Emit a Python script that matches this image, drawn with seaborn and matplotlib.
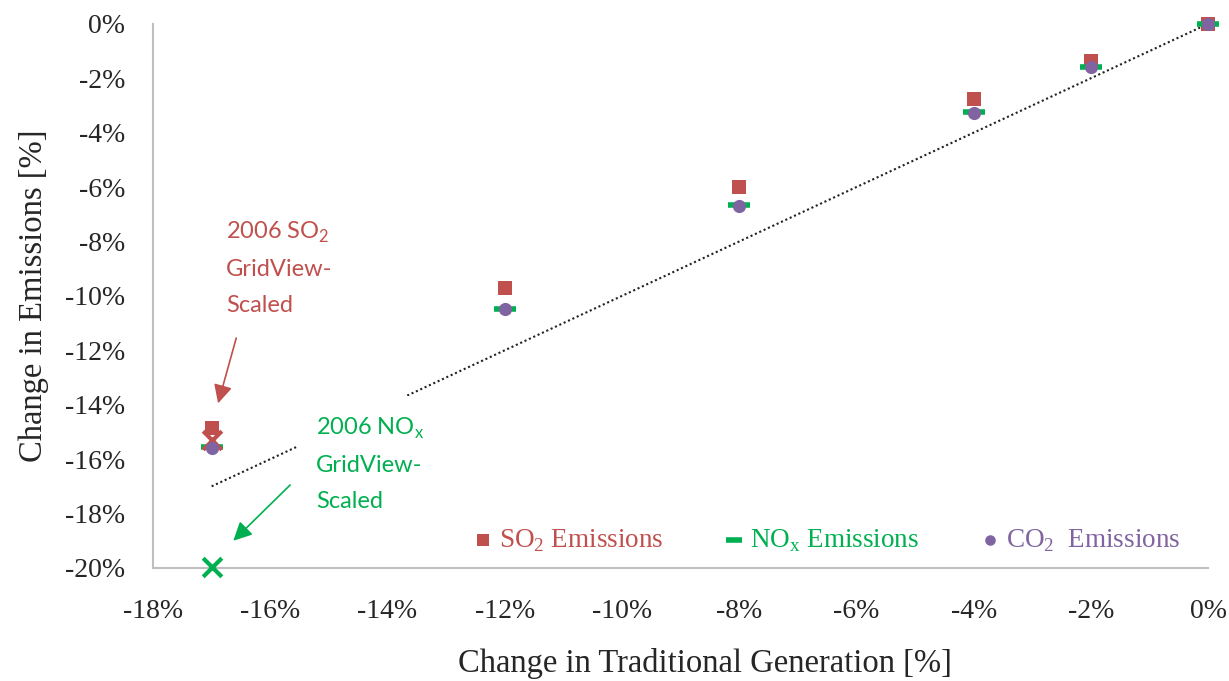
import matplotlib
matplotlib.use("Agg")
import matplotlib.pyplot as plt
import seaborn as sns
import pandas as pd

# Data (percent)
gen_change = [-17, -12, -8, -4, -2, 0]
so2_change = [-14.85, -9.72, -6.0, -2.78, -1.36, 0.0]
nox_change = [-15.55, -10.48, -6.66, -3.25, -1.58, 0.0]
co2_change = [-15.6, -10.5, -6.68, -3.27, -1.6, 0.0]

gridview_x = [-17]
gridview_so2 = [-15.3]
gridview_nox = [-19.95]

ref_x = [-17, 0]
ref_y = [-17, 0]

xticks = [-18, -16, -14, -12, -10, -8, -6, -4, -2, 0]
yticks = [0, -2, -4, -6, -8, -10, -12, -14, -16, -18, -20]

RED = "#C0504D"
GREEN = "#00B050"
PURPLE = "#8064A2"

sns.set_style("white")
plt.rcParams['font.family'] = ['Liberation Serif', 'DejaVu Serif']
plt.rcParams['mathtext.fontset'] = 'custom'
plt.rcParams['mathtext.rm'] = 'Liberation Serif'
plt.rcParams['mathtext.sf'] = 'Lato'

fig = plt.figure(figsize=(12.29, 6.81), dpi=100)
ax = fig.add_axes([0.1245, 0.166, 0.8585, 0.799])

df = pd.DataFrame({"gen": gen_change, "so2": so2_change, "nox": nox_change, "co2": co2_change})

# reference 1:1 line
sns.lineplot(x=ref_x, y=ref_y, ax=ax, color="#222222", linestyle=(0, (1, 1.3)), linewidth=1.5, zorder=1)

sns.scatterplot(data=df, x="gen", y="so2", ax=ax, marker="s", s=100, color=RED, edgecolor=RED,
                linewidth=0, zorder=3, label="SO$_2$ Emissions", clip_on=False)
sns.scatterplot(data=df, x="gen", y="nox", ax=ax, marker="_", s=230, color=GREEN, edgecolor=GREEN,
                linewidth=4, zorder=4, label="NO$_\\mathregular{x}$ Emissions", clip_on=False)
sns.scatterplot(data=df, x="gen", y="co2", ax=ax, marker="o", s=90, color=PURPLE, edgecolor=PURPLE,
                linewidth=0, zorder=5, label="CO$_2$  Emissions", clip_on=False)

sns.scatterplot(x=gridview_x, y=gridview_so2, ax=ax, marker="x", s=180, color=RED, linewidth=3, zorder=4)
sns.scatterplot(x=gridview_x, y=gridview_nox, ax=ax, marker="x", s=180, color=GREEN, linewidth=3,
                zorder=6, clip_on=False)

ax.set_xlim(-18, 0)
ax.set_ylim(-20, 0)
ax.set_xticks(xticks)
ax.set_xticklabels([f"{t}%" for t in xticks])
ax.set_yticks(yticks)
ax.set_yticklabels([f"{t}%" for t in yticks])
ax.tick_params(axis="both", length=0, labelsize=20)
ax.tick_params(axis="x", pad=22)
ax.tick_params(axis="y", pad=20)

for s in ["top", "right"]:
    ax.spines[s].set_visible(False)
for s in ["left", "bottom"]:
    ax.spines[s].set_color("#BFBFBF")
    ax.spines[s].set_linewidth(1.5)

ax.set_xlabel("Change in Traditional Generation [%]", fontsize=23.5)
ax.xaxis.set_label_coords(0.5235, -0.148)
ax.set_ylabel("Change in Emissions [%]", fontsize=23.5)
ax.yaxis.set_label_coords(-0.099, 0.5)

# annotations
ax.text(-16.75, -7.2, "2006 SO$_\\mathsf{2}$\nGridView-\nScaled",
        fontsize=17, family="Lato", color=RED, linespacing=1.85, va="top", ha="left", zorder=7)
ax.annotate("", xy=(-16.89, -13.95), xytext=(-16.58, -11.55),
            arrowprops=dict(arrowstyle="-|>", color=RED, lw=1.2, mutation_scale=28, shrinkA=0, shrinkB=0))

ax.text(-15.22, -14.4, "2006 NO$_\\mathsf{x}$\nGridView-\nScaled", fontsize=17, family="Lato",
        color=GREEN, linespacing=1.85, va="top", ha="left", zorder=7,
        bbox=dict(boxstyle="square,pad=0.75", facecolor="white", edgecolor="none"))
ax.annotate("", xy=(-16.63, -19.0), xytext=(-15.66, -16.95),
            arrowprops=dict(arrowstyle="-|>", color=GREEN, lw=1.2, mutation_scale=28, shrinkA=0, shrinkB=0),
            zorder=8)

leg = ax.legend(loc="lower right", bbox_to_anchor=(0.997, -0.019), ncol=3, frameon=False, fontsize=19.5,
                handletextpad=0.0, columnspacing=2.0, markerscale=0.8, handlelength=1.2)
for txt, c in zip(leg.get_texts(), [RED, GREEN, PURPLE]):
    txt.set_color(c)

fig.savefig("out.png", dpi=100)
